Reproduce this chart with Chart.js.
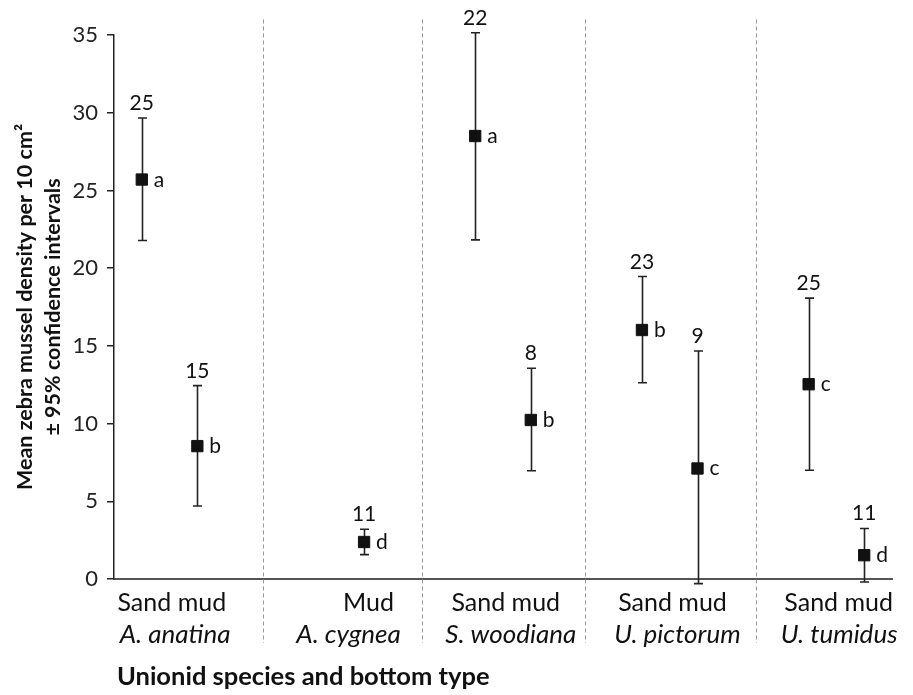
<!DOCTYPE html>
<html>
<head>
<meta charset="utf-8">
<script src="https://cdn.jsdelivr.net/npm/chart.js@4.4.1/dist/chart.umd.min.js"></script>
<style>
  html, body { margin: 0; padding: 0; background: #fff; }
  #wrap { width: 913px; height: 695px; position: relative; }
</style>
</head>
<body>
<div id="wrap"><canvas id="c" width="913" height="695"></canvas></div>
<script>
// ---- Data ----
const species = ['A. anatina', 'A. cygnea', 'S. woodiana', 'U. pictorum', 'U. tumidus'];
const bottomLabels = ['Sand mud', 'Mud', 'Sand mud', 'Sand mud', 'Sand mud'];
// category slot of each measured point (sand / mud within each species block)
const pointSlots = [0, 1, 4, 6, 7, 9, 10, 12, 13];
const means   = [25.7, 8.55, 2.38, 28.5, 10.23, 16.02, 7.11, 12.53, 1.53];
const ciLow   = [21.78, 4.70, 1.57, 21.82, 6.96, 12.63, -0.3, 7.0, -0.19];
const ciHigh  = [29.66, 12.44, 3.2, 35.14, 13.56, 19.46, 14.67, 18.07, 3.25];
const nCounts = ['25', '15', '11', '22', '8', '23', '9', '25', '11'];
const groupLetters = ['a', 'b', 'd', 'a', 'b', 'b', 'c', 'c', 'd'];
const yTicks = [0, 5, 10, 15, 20, 25, 30, 35];

// ---- Layout constants (slot units on x scale) ----
const separatorSlots = [2.19, 5.04, 7.97, 11.06];
const bottomLabelSlots = [0.54, 4.08, 6.55, 9.55, 12.54];
const speciesLabelSlots = [0.60, 3.72, 6.64, 9.64, 12.55];

const FONT = 'Lato, "Open Sans", sans-serif';

const overlay = {
  id: 'overlay',
  beforeDatasetsDraw(chart) {
    const {ctx, scales: {x, y}, chartArea} = chart;
    ctx.save();
    // dashed separators
    ctx.strokeStyle = '#9a9a9a';
    ctx.lineWidth = 1;
    ctx.setLineDash([4, 3]);
    separatorSlots.forEach(s => {
      const px = Math.round(x.getPixelForValue(s)) + 0.5;
      ctx.beginPath();
      ctx.moveTo(px, y.getPixelForValue(36));
      ctx.lineTo(px, chartArea.bottom + 64);
      ctx.stroke();
    });
    ctx.setLineDash([]);
    // error bars
    ctx.strokeStyle = '#222';
    ctx.lineWidth = 1.6;
    pointSlots.forEach((s, i) => {
      const px = Math.round(x.getPixelForValue(s)) + 0.5;
      const lo = y.getPixelForValue(ciLow[i]);
      const hi = y.getPixelForValue(ciHigh[i]);
      ctx.beginPath();
      ctx.moveTo(px, lo); ctx.lineTo(px, hi);
      ctx.moveTo(px - 4.5, lo); ctx.lineTo(px + 4.5, lo);
      ctx.moveTo(px - 4.5, hi); ctx.lineTo(px + 4.5, hi);
      ctx.stroke();
    });
    ctx.restore();
  },
  afterDraw(chart) {
    const {ctx, scales: {x, y}, chartArea} = chart;
    ctx.save();
    ctx.fillStyle = '#111';
    // counts and letters
    ctx.font = '21px ' + FONT;
    pointSlots.forEach((s, i) => {
      const px = x.getPixelForValue(s);
      ctx.textAlign = 'center';
      ctx.textBaseline = 'alphabetic';
      ctx.fillText(nCounts[i], px, y.getPixelForValue(ciHigh[i]) - 8);
      ctx.textAlign = 'left';
      ctx.fillText(groupLetters[i], px + 12, y.getPixelForValue(means[i]) + 7);
    });
    // x category labels
    ctx.textAlign = 'center';
    ctx.textBaseline = 'alphabetic';
    ctx.font = '25px ' + FONT;
    bottomLabels.forEach((t, i) => {
      ctx.fillText(t, x.getPixelForValue(bottomLabelSlots[i]), chartArea.bottom + 32);
    });
    ctx.font = 'italic 26px ' + FONT;
    species.forEach((t, i) => {
      ctx.fillText(t, x.getPixelForValue(speciesLabelSlots[i]), chartArea.bottom + 64);
    });
    // x axis title
    ctx.textAlign = 'left';
    ctx.font = 'bold 25.5px ' + FONT;
    ctx.fillText('Unionid species and bottom type', chartArea.left + 3, chartArea.bottom + 106);
    ctx.restore();
  }
};

new Chart(document.getElementById('c'), {
  type: 'scatter',
  data: {
    datasets: [{
      data: pointSlots.map((s, i) => ({x: s, y: means[i]})),
      pointStyle: 'rect',
      pointRadius: 8,
      pointHoverRadius: 8,
      backgroundColor: '#111',
      borderColor: '#111',
      borderWidth: 1
    }]
  },
  options: {
    responsive: false,
    animation: false,
    events: [],
    layout: { padding: { left: 0, right: 21, top: 35, bottom: 116 } },
    plugins: { legend: { display: false }, tooltip: { enabled: false } },
    scales: {
      x: {
        type: 'linear',
        min: -0.5,
        max: 13.5,
        ticks: { display: false },
        grid: { display: false, drawTicks: false },
        border: { display: true, color: '#555', width: 2 },
        afterFit(s) { s.height = 0; }
      },
      y: {
        min: 0,
        max: 35,
        afterBuildTicks(s) { s.ticks = yTicks.map(v => ({value: v})); },
        ticks: { font: { family: FONT, size: 22 }, color: '#222', padding: 9 },
        grid: { drawOnChartArea: false, tickLength: 7, color: '#222', lineWidth: 1.5 },
        border: { display: true, color: '#222', width: 1.5 },
        title: {
          display: true,
          text: ['Mean zebra mussel density per 10 cm\u00B2', '\u00B1 95% confidence intervals'],
          font: { family: FONT, size: 21.5, weight: 'bold', lineHeight: 1.3 },
          color: '#111',
          padding: { top: 11, bottom: 0 }
        },
        afterFit(s) { s.width = 114; }
      }
    }
  },
  plugins: [overlay]
});
</script>
</body>
</html>
